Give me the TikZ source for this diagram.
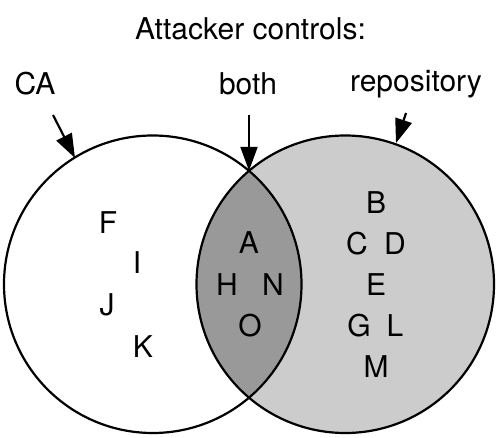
\documentclass[tikz,border=0pt]{standalone}
\usepackage{fontspec}
\setmainfont{TeX Gyre Heros}
\usetikzlibrary{arrows.meta}
\definecolor{lightfill}{gray}{0.8}
\definecolor{darkfill}{gray}{0.6}
\begin{document}
\begin{tikzpicture}[x=1bp,y=-1bp,
  lbl/.style={font=\fontsize{30bp}{36bp}\selectfont, inner sep=0pt, anchor=base},
  outline/.style={line width=2.2bp, draw=black},
  pointer/.style={line width=2.2bp, -{Triangle[length=24bp,width=17bp]}}]
\useasboundingbox (0,0) rectangle (498,438);
\coordinate (cl) at (152.75,284.25);
\coordinate (cr) at (345.25,284.25);
\coordinate (both) at (249,170.8);
\coordinate (catip) at (75,158);
\coordinate (reptip) at (396,143);
\coordinate (castart) at (53,115);
\coordinate (bothstart) at (249,115);
\coordinate (repstart) at (406,113);
% fills
\fill[lightfill] (cr) circle[radius=148.75bp];
\begin{scope}
  \clip (cl) circle[radius=148.75bp];
  \fill[darkfill] (cr) circle[radius=148.75bp];
\end{scope}
% outlines
\draw[outline] (cl) circle[radius=148.75bp];
\draw[outline] (cr) circle[radius=148.75bp];
% labels
\node[lbl] (title) at (250.5,39.3) {Attacker controls:};
\node[lbl] (ca) at (35,95) {CA};
\node[lbl] (bothlbl) at (248,95) {both};
\node[lbl] (repo) at (416,91.7) {repository};
% arrows
\draw[pointer] (castart) -- (catip);
\draw[pointer] (bothstart) -- (both);
\draw[pointer] (repstart) -- (reptip);
% letters
\node[lbl] (lF) at (108,233.8) {F};
\node[lbl] (lI) at (137,273.8) {I};
\node[lbl] (lJ) at (107,315.8) {J};
\node[lbl] (lK) at (143,357.8) {K};
\node[lbl] (lA) at (249,253.8) {A};
\node[lbl] (lH) at (227,295.8) {H};
\node[lbl] (lN) at (273,295.8) {N};
\node[lbl] (lO) at (250,336.8) {O};
\node[lbl] (lB) at (376,213.8) {B};
\node[lbl] (lC) at (357,254.8) {C};
\node[lbl] (lD) at (395,254.8) {D};
\node[lbl] (lE) at (376,295.8) {E};
\node[lbl] (lG) at (359,336.8) {G};
\node[lbl] (lL) at (395,336.8) {L};
\node[lbl] (lM) at (376,377.8) {M};
\end{tikzpicture}
\end{document}
